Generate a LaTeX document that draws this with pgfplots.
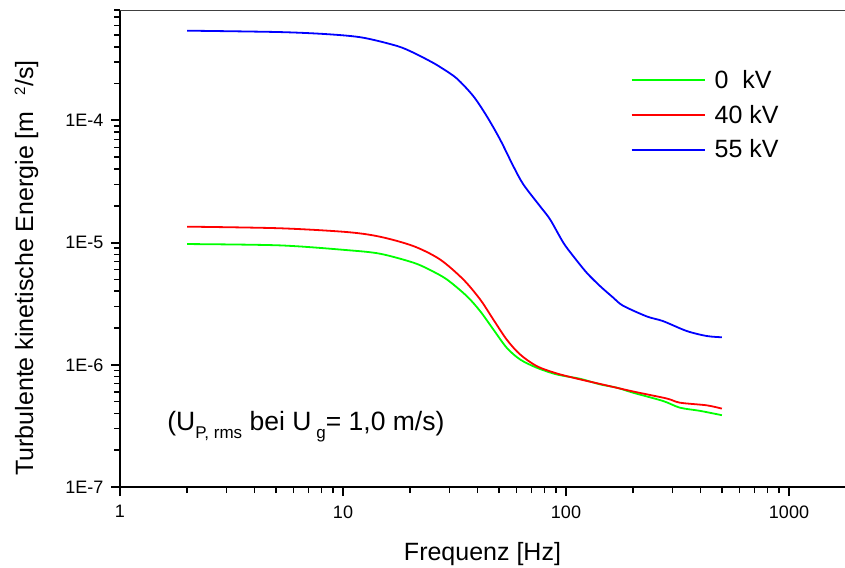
\documentclass[border=0pt]{standalone}
\usepackage{fontspec}
\setmainfont{Liberation Sans}
\usepackage{pgfplots}
\pgfplotsset{compat=1.18}
\usetikzlibrary{calc}

\definecolor{kvgreen}{RGB}{0,255,0}
\definecolor{kvred}{RGB}{255,0,0}
\definecolor{kvblue}{RGB}{0,0,255}

% spectra of turbulent kinetic energy, frequency [Hz] vs. energy [m^2/s]
\pgfplotstableread{
f      e
2      9.73e-6
5.2    9.49e-6
10.4   8.68e-6
14.65  8.11e-6
20.7   6.85e-6
24.6   5.96e-6
29.2   5.00e-6
35.9   3.65e-6
41.2   2.75e-6
47.2   1.95e-6
54.2   1.38e-6
62.2   1.107e-6
73.9   9.47e-7
90.9   8.34e-7
115.6  7.69e-7
142    6.92e-7
169    6.50e-7
200    5.91e-7
273    5.05e-7
324    4.46e-7
399    4.20e-7
500    3.87e-7
}\zerokv

\pgfplotstableread{
f      e
2      1.35e-5
5.2    1.31e-5
10.4   1.22e-5
14.65  1.117e-5
20.7   9.36e-6
27.2   7.29e-6
34.6   5.00e-6
41.2   3.43e-6
47.2   2.35e-6
54.2   1.61e-6
62.2   1.217e-6
73.9   9.76e-7
90.9   8.50e-7
115.6  7.60e-7
141    7.00e-7
200    6.05e-7
283    5.30e-7
324    4.90e-7
428    4.66e-7
500    4.38e-7
}\fortykv

\pgfplotstableread{
f      e
2      5.42e-4
5.2    5.28e-4
8.7    5.06e-4
12.3   4.75e-4
17.5   4.06e-4
20.7   3.58e-4
24.5   3.06e-4
27.2   2.74e-4
32.3   2.21e-4
38.4   1.58e-4
44.1   1.084e-4
50.6   6.99e-5
58.0   4.23e-5
64.4   2.99e-5
76.4   1.99e-5
84.8   1.55e-5
97.3   9.98e-6
107.8  7.75e-6
123.8  5.67e-6
142.1  4.41e-6
163    3.54e-6
180    3.05e-6
230    2.49e-6
272    2.28e-6
348    1.89e-6
428    1.72e-6
500    1.68e-6
}\fiftyfivekv

\begin{document}
\begin{tikzpicture}
\begin{axis}[
  name=main,
  scale only axis,
  width=725pt, height=477pt,
  xmode=log, ymode=log,
  xmin=1, xmax=1783,
  ymin=1e-7, ymax=8e-4,
  axis x line*=bottom, axis y line*=left,
  axis line style={line width=1.8pt, -},
  tick align=outside,
  major tick length=9pt, minor tick length=6pt,
  every tick/.append style={black, line width=2pt},
  every minor tick/.append style={line width=1.5pt},
  xtick={1,10,100,1000}, xticklabels={1,10,100,1000},
  minor xtick={2,3,4,5,6,7,8,9,20,30,40,50,60,70,80,90,200,300,400,500,600,700,800,900},
  ytick={1e-7,1e-6,1e-5,1e-4}, yticklabels={1E-7,1E-6,1E-5,1E-4},
  minor ytick={2e-7,3e-7,4e-7,5e-7,6e-7,7e-7,8e-7,9e-7,
               2e-6,3e-6,4e-6,5e-6,6e-6,7e-6,8e-6,9e-6,
               2e-5,3e-5,4e-5,5e-5,6e-5,7e-5,8e-5,9e-5,
               2e-4,3e-4,4e-4,5e-4,6e-4,7e-4,8e-4},
  ticklabel style={font=\fontsize{18}{20}\selectfont},
  xticklabel style={yshift=-6pt},
  yticklabel style={xshift=-4pt},
  xlabel={Frequenz [Hz]},
  ylabel={Turbulente kinetische Energie [m\hspace{16pt}\raisebox{8pt}{\fontsize{15}{15}\selectfont 2}/s]},
  label style={font=\fontsize{25}{30}\selectfont},
  x label style={at={(rel axis cs:0.5,-0.153)}, anchor=base},
  y label style={at={(rel axis cs:-0.12,0.459)}, anchor=base},
  legend style={draw=none, fill=none, at={(rel axis cs:0.70,0.882)}, anchor=north west,
    font=\fontsize{25}{30}\selectfont, row sep=11pt, column sep=7pt},
  legend cell align=left,
  legend image code/.code={\draw[#1, line width=2pt] (0pt,0pt) -- (73pt,0pt);},
]
\addplot[kvgreen, line width=1.8pt, smooth] table[x=f, y=e] {\zerokv};
\addlegendentry{0\ \ kV}
\addplot[kvred, line width=1.8pt, smooth] table[x=f, y=e] {\fortykv};
\addlegendentry{40 kV}
\addplot[kvblue, line width=1.8pt, smooth] table[x=f, y=e] {\fiftyfivekv};
\addlegendentry{55 kV}

% thin frame line along the top
\draw[black!75, line width=0.8pt] (rel axis cs:0,1) -- (rel axis cs:1,1);

\node[anchor=base west, font=\fontsize{26.5}{30}\selectfont, inner sep=0pt]
  at (rel axis cs:0.065,0.1195)
  {(U\raisebox{-8pt}{\fontsize{17}{17}\selectfont P, rms} bei U\hspace{5pt}\raisebox{-8pt}{\fontsize{17}{17}\selectfont g}= 1,0 m/s)};
\end{axis}
\pgfresetboundingbox
\path[use as bounding box] ($(main.south west)+(-120pt,-80pt)$) rectangle ($(main.north east)+(0pt,10pt)$);
\end{tikzpicture}
\end{document}
